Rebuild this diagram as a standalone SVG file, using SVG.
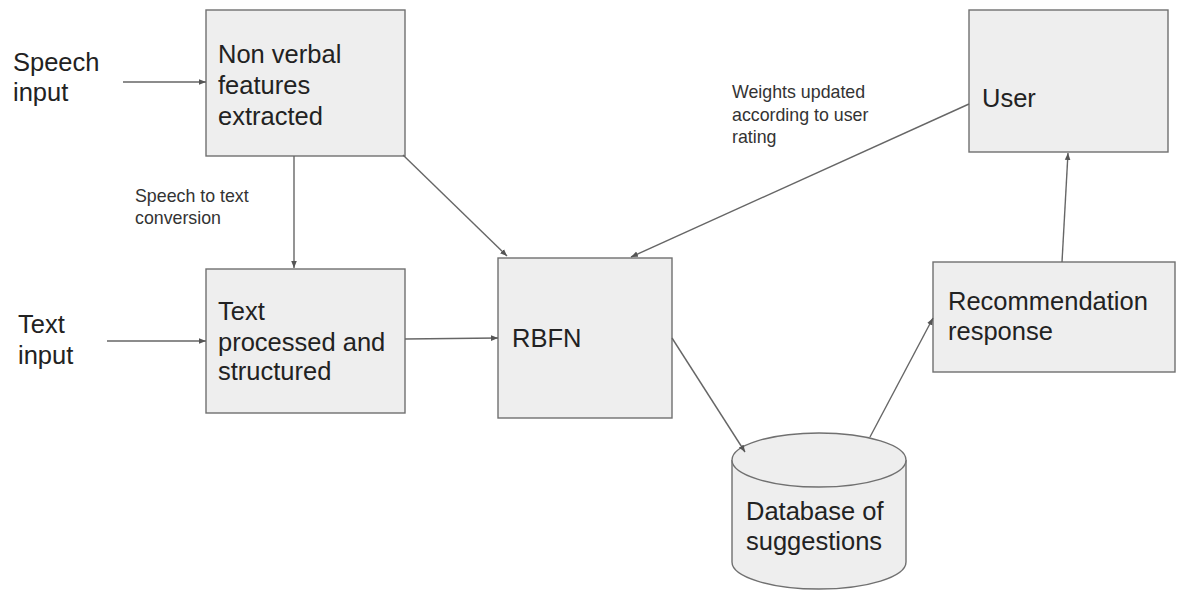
<svg xmlns="http://www.w3.org/2000/svg" width="1177" height="590" viewBox="0 0 1177 590">
<style>
.box{fill:#eeeeee;stroke:#707070;stroke-width:1.4}
.lbl{font-family:"Liberation Sans",Arial,sans-serif;font-size:25.5px;fill:#222}
.sm{font-family:"Liberation Sans",Arial,sans-serif;font-size:17.8px;fill:#333}
.conn{stroke:#666;stroke-width:1.4;fill:none;marker-end:url(#ah)}
</style>
<defs>
<marker id="ah" viewBox="0 0 10 10" refX="10" refY="5" markerWidth="7" markerHeight="7" markerUnits="userSpaceOnUse" orient="auto">
<path d="M0,1 L10,5 L0,9 z" fill="#555"/>
</marker>
</defs>
<rect width="1177" height="590" fill="#fff"/>
<g id="speech-input">
<text class="lbl" x="13" y="71">Speech</text>
<text class="lbl" x="13" y="101">input</text>
</g>
<g id="text-input">
<text class="lbl" x="18" y="333">Text</text>
<text class="lbl" x="18" y="364">input</text>
</g>
<g id="nonverbal">
<rect class="box" x="206" y="10" width="199" height="146"/>
<text class="lbl" x="218" y="63">Non verbal</text>
<text class="lbl" x="218" y="94">features</text>
<text class="lbl" x="218" y="125">extracted</text>
</g>
<g id="speech-to-text-label">
<text class="sm" x="135" y="202">Speech to text</text>
<text class="sm" x="135" y="224">conversion</text>
</g>
<g id="textproc">
<rect class="box" x="206" y="269" width="199" height="144"/>
<text class="lbl" x="218" y="320">Text</text>
<text class="lbl" x="218" y="351">processed and</text>
<text class="lbl" x="218" y="380">structured</text>
</g>
<g id="rbfn">
<rect class="box" x="498" y="258" width="174" height="160"/>
<text class="lbl" x="512" y="347">RBFN</text>
</g>
<g id="user">
<rect class="box" x="969" y="10" width="199" height="142"/>
<text class="lbl" x="982" y="107">User</text>
</g>
<g id="weights-label">
<text class="sm" x="732" y="98">Weights updated</text>
<text class="sm" x="732" y="121">according to user</text>
<text class="sm" x="732" y="143">rating</text>
</g>
<g id="recommendation">
<rect class="box" x="933" y="262" width="242" height="110"/>
<text class="lbl" x="948" y="310">Recommendation</text>
<text class="lbl" x="948" y="340">response</text>
</g>
<g id="database">
<path class="box" d="M732,460 L732,562 A87,27 0 0 0 906,562 L906,460"/>
<ellipse class="box" cx="819" cy="460" rx="87" ry="27"/>
<text class="lbl" x="746" y="520">Database of</text>
<text class="lbl" x="746" y="550">suggestions</text>
</g>
<g id="connectors">
<line class="conn" x1="123" y1="82" x2="206" y2="82"/>
<line class="conn" x1="107" y1="341" x2="206" y2="341"/>
<line class="conn" x1="294" y1="156" x2="294" y2="268"/>
<line class="conn" x1="405" y1="339" x2="498" y2="338"/>
<line class="conn" x1="403" y1="155" x2="507" y2="256"/>
<line class="conn" x1="969" y1="104" x2="631" y2="257"/>
<line class="conn" x1="672" y1="338" x2="745" y2="452"/>
<line class="conn" x1="870" y1="437" x2="933" y2="318"/>
<line class="conn" x1="1062" y1="262" x2="1068" y2="153"/>
</g>
</svg>
